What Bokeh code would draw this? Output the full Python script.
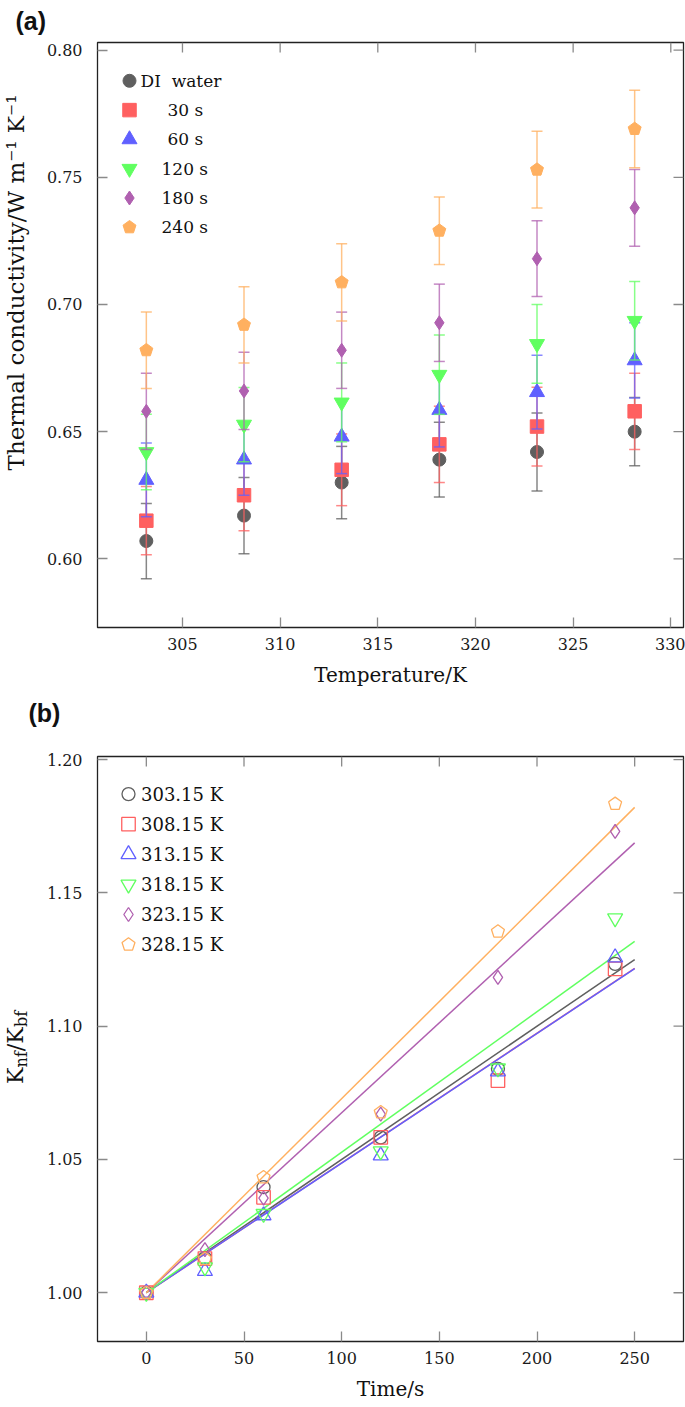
import numpy as np
from bokeh.plotting import figure
from bokeh.models import Range1d, FixedTicker, PrintfTickFormatter
from bokeh.layouts import column, row
from bokeh.embed import file_html
from bokeh.resources import INLINE
from bokeh.core.properties import value

# ---------------- Panel (a) data ----------------
temperature_K = [303.15, 308.15, 313.15, 318.15, 323.15, 328.15]
labels_a = ["DI\u00a0\u00a0water", "30 s", "60 s", "120 s", "180 s", "240 s"]
k_di = [0.607, 0.617, 0.630, 0.639, 0.642, 0.650]
k_30 = [0.615, 0.625, 0.635, 0.645, 0.652, 0.658]
k_60 = [0.631, 0.639, 0.648, 0.6585, 0.6655, 0.678]
k_120 = [0.642, 0.6528, 0.6615, 0.6724, 0.6845, 0.6936]
k_180 = [0.658, 0.666, 0.682, 0.6928, 0.718, 0.738]
k_240 = [0.682, 0.692, 0.7087, 0.729, 0.753, 0.769]
err_di = [0.0148, 0.0150, 0.0142, 0.0147, 0.0153, 0.0134]
err_30 = [0.0134, 0.0140, 0.0141, 0.0150, 0.0155, 0.0150]
err_60 = [0.0145, 0.0140, 0.0145, 0.0145, 0.0145, 0.0148]
err_120 = [0.0148, 0.0146, 0.0155, 0.0156, 0.0155, 0.0154]
err_180 = [0.0150, 0.0152, 0.0150, 0.0152, 0.0149, 0.0151]
err_240 = [0.0150, 0.0150, 0.0152, 0.0133, 0.0151, 0.0152]

# ---------------- Panel (b) data ----------------
time_s = [0, 30, 60, 120, 180, 240]
labels_b = ["303.15 K", "308.15 K", "313.15 K", "318.15 K", "323.15 K", "328.15 K"]
ratio_303 = [1.000, 1.0130, 1.0396, 1.0583, 1.0840, 1.1234]
ratio_308 = [1.000, 1.0128, 1.0358, 1.0583, 1.0796, 1.1215]
ratio_313 = [1.000, 1.0081, 1.0290, 1.0515, 1.0830, 1.1258]
ratio_318 = [1.000, 1.0096, 1.0296, 1.0531, 1.0842, 1.1405]
ratio_323 = [1.000, 1.0162, 1.0355, 1.0670, 1.1183, 1.1731]
ratio_328 = [1.000, 1.0126, 1.0433, 1.0677, 1.1355, 1.1834]
fit_time = [0, 250]
fit_start = [1.0, 1.0, 1.0, 1.0, 1.0, 1.0]
fit_end = [1.1250, 1.1217, 1.1216, 1.1318, 1.1688, 1.1821]

# ---------------- ticks ----------------
xticks_a = [305, 310, 315, 320, 325, 330]
yticks_a = [0.60, 0.65, 0.70, 0.75, 0.80]
xticks_b = [0, 50, 100, 150, 200, 250]
yticks_b = [1.00, 1.05, 1.10, 1.15, 1.20]

# ---------------- styles / layout ----------------
colors = ["#5f5f5f", "#ff6060", "#6060ff", "#60ff60", "#b060b0", "#ffb060"]
markers = ["circle", "square", "triangle", "inverted_triangle", "diamond", "pentagon"]
sizes = [13, 13.5, 15, 15, 14, 6.8]
SERIF = "DejaVu Serif"
SANS = "Liberation Sans"

LAB_W = 40          # narrow strip holding the rotated y labels
MAIN_W = 645
BL = 57
BR = 2
FW = MAIN_W - BL - BR   # 586
HEAD_H = 40

XR_A = (300.65, 330.65)
YR_A = (0.573, 0.803)
H_A, BT_A, BB_A = 652, 2, 65
FH_A = H_A - BT_A - BB_A   # 585

XR_B = (-25.0, 275.0)
YR_B = (0.9817, 1.2012)
H_B, BT_B, BB_B = 673, 24, 64
FH_B = H_B - BT_B - BB_B   # 585

TICK_PX = 10


def px2x(xr, px):
    return xr[0] + px / FW * (xr[1] - xr[0])


def px2y(yr, fh, py):
    return yr[1] - py / fh * (yr[1] - yr[0])


def style_axis(ax, ticks):
    ax.ticker = FixedTicker(ticks=ticks)
    ax.axis_line_color = None
    ax.major_tick_in = TICK_PX
    ax.major_tick_out = 0
    ax.minor_tick_line_color = None
    ax.major_tick_line_color = "#8a8a8a"
    ax.major_tick_line_width = 1.3
    ax.major_label_text_font = SERIF
    ax.major_label_text_font_size = "16px"
    ax.major_label_text_color = "#1a1a1a"
    ax.axis_label_text_font = SERIF
    ax.axis_label_text_font_style = "normal"
    ax.axis_label_text_color = "#111111"
    ax.axis_label_text_font_size = "20px"
    ax.axis_label_standoff = 10


def make_fig(h, bt, bb, xr, yr, xt, yt):
    fh = h - bt - bb
    p = figure(width=MAIN_W, height=h, x_range=Range1d(*xr), y_range=Range1d(*yr),
               output_backend="svg", toolbar_location=None,
               min_border_left=BL, min_border_right=BR,
               min_border_top=bt, min_border_bottom=bb)
    p.grid.visible = False
    p.outline_line_color = "#222222"
    p.outline_line_width = 1.3
    style_axis(p.below[0], xt)
    style_axis(p.left[0], yt)
    p.left[0].formatter = PrintfTickFormatter(format="%.2f")
    p.left[0].major_label_standoff = 15
    p.below[0].major_label_standoff = 10
    # mirrored inward ticks on the top and right edges
    dy = TICK_PX * (yr[1] - yr[0]) / fh
    dx = TICK_PX * (xr[1] - xr[0]) / FW
    p.segment(x0=xt, y0=[yr[1]] * len(xt), x1=xt, y1=[yr[1] - dy] * len(xt),
              line_color="#8a8a8a", line_width=1.3)
    p.segment(x0=[xr[1]] * len(yt), y0=yt, x1=[xr[1] - dx] * len(yt), y1=yt,
              line_color="#8a8a8a", line_width=1.3)
    return p


def blank(w, h, bt=0, bb=0):
    # y data unit = pixels measured from the bottom edge of this canvas
    p = figure(width=w, height=h, x_range=Range1d(0, w), y_range=Range1d(bb, h - bt),
               output_backend="svg", toolbar_location=None,
               min_border_left=0, min_border_right=0, min_border_top=bt, min_border_bottom=bb,
               x_axis_location=None, y_axis_location=None)
    p.outline_line_color = None
    p.grid.visible = False
    return p


def draw_marker(p, xr, yr, fh, kind, xs, ys, size, color, hollow, lw):
    fill = None if hollow else color
    if kind == "pentagon":
        sx = (xr[1] - xr[0]) / FW
        sy = (yr[1] - yr[0]) / fh
        angs = [np.pi / 2 + 2 * np.pi * k / 5 for k in range(5)]
        pxs = [[x + size * np.cos(a) * sx for a in angs] for x in xs]
        pys = [[y + size * np.sin(a) * sy for a in angs] for y in ys]
        p.patches(xs=pxs, ys=pys, fill_color=fill, line_color=color, line_width=lw)
    else:
        p.scatter(x=xs, y=ys, marker=kind, size=size,
                  fill_color=fill, line_color=color, line_width=lw)


# ================= Panel (a) =================
pa = make_fig(H_A, BT_A, BB_A, XR_A, YR_A, xticks_a, yticks_a)
pa.below[0].axis_label = "Temperature/K"

vals_a = [k_di, k_30, k_60, k_120, k_180, k_240]
errs_a = [err_di, err_30, err_60, err_120, err_180, err_240]
for i in range(6):
    c = colors[i]
    lo = [v - e for v, e in zip(vals_a[i], errs_a[i])]
    hi = [v + e for v, e in zip(vals_a[i], errs_a[i])]
    pa.segment(x0=temperature_K, y0=lo, x1=temperature_K, y1=hi,
               line_color=c, line_width=1.5, line_alpha=0.75)
    pa.scatter(x=temperature_K + temperature_K, y=lo + hi, marker="dash", size=11,
               line_color=c, line_width=1.5, line_alpha=0.75)
    draw_marker(pa, XR_A, YR_A, FH_A, markers[i], temperature_K, vals_a[i], sizes[i], c, False, 1)

leg_text_px_a = [43, 70, 70, 64, 64, 64]
for i in range(6):
    yy = px2y(YR_A, FH_A, 38.3 + 29.3 * i)
    draw_marker(pa, XR_A, YR_A, FH_A, markers[i], [px2x(XR_A, 32)], [yy], sizes[i], colors[i], False, 1)
    pa.text(x=[px2x(XR_A, leg_text_px_a[i])], y=[yy], text=[labels_a[i]],
            text_font=value(SERIF), text_font_size=value("17px"),
            text_baseline=value("middle"), text_align=value("left"), text_color="#111111")

# header "(a)" and y label strip
head_a = blank(LAB_W + MAIN_W, HEAD_H)
head_a.text(x=[15], y=[HEAD_H / 2], text=["(a)"], text_font=value(SANS),
            text_font_style=value("bold"), text_font_size=value("25px"),
            text_baseline=value("middle"), text_align=value("left"), text_color="#111111")

lab_a = blank(LAB_W, H_A, BT_A, BB_A)
lab_a.text(x=[15], y=[410], text=["Thermal conductivity/W m\u207b\u00b9 K\u207b\u00b9"],
           angle=np.pi / 2, text_font=value(SERIF), text_font_size=value("23px"),
           text_baseline=value("middle"), text_align=value("center"), text_color="#111111")

# ================= Panel (b) =================
pb = make_fig(H_B, BT_B, BB_B, XR_B, YR_B, xticks_b, yticks_b)
pb.below[0].axis_label = "Time/s"

vals_b = [ratio_303, ratio_308, ratio_313, ratio_318, ratio_323, ratio_328]
for i in range(6):
    pb.line(x=fit_time, y=[fit_start[i], fit_end[i]], line_color=colors[i], line_width=1.5)
for i in range(6):
    draw_marker(pb, XR_B, YR_B, FH_B, markers[i], time_s, vals_b[i], sizes[i], colors[i], True, 1.3)

for i in range(6):
    yy = px2y(YR_B, FH_B, 37.6 + 30.1 * i)
    draw_marker(pb, XR_B, YR_B, FH_B, markers[i], [px2x(XR_B, 31)], [yy], sizes[i], colors[i], True, 1.3)
    pb.text(x=[px2x(XR_B, 43.5)], y=[yy], text=[labels_b[i]],
            text_font=value(SERIF), text_font_size=value("18px"),
            text_baseline=value("middle"), text_align=value("left"), text_color="#111111")

head_b = blank(LAB_W + MAIN_W, HEAD_H)
head_b.text(x=[28], y=[HEAD_H / 2], text=["(b)"], text_font=value(SANS),
            text_font_style=value("bold"), text_font_size=value("25px"),
            text_baseline=value("middle"), text_align=value("left"), text_color="#111111")

lab_b = blank(LAB_W, H_B, BT_B, BB_B)
pieces = [("K", "22px", 15, 16.7), ("nf", "16px", 21, 16.2), ("/K", "22px", 15, 24.1), ("bf", "16px", 21, 16.5)]
total = sum(pc[3] for pc in pieces)
pos = 358 - total / 2
for txt, fs, xx, wdt in pieces:
    lab_b.text(x=[xx], y=[pos + wdt / 2], text=[txt], angle=np.pi / 2,
               text_font=value(SERIF), text_font_size=value(fs),
               text_baseline=value("middle"), text_align=value("center"), text_color="#111111")
    pos += wdt

layout = column(head_a, row(lab_a, pa), head_b, row(lab_b, pb))
open("out.html", "w").write(file_html(layout, INLINE))
